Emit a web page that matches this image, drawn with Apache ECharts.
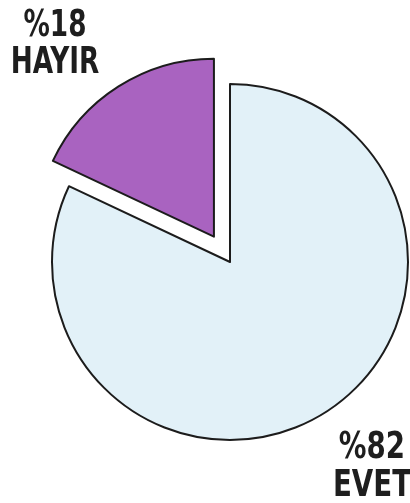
<!DOCTYPE html>
<html>
<head>
<meta charset="utf-8">
<script src="https://cdn.jsdelivr.net/npm/echarts@6/dist/echarts.min.js"></script>
<style>
  html, body { margin: 0; padding: 0; background: #fff; }
  #chart { width: 410px; height: 503px; }
</style>
</head>
<body>
<div id="chart"></div>
<script>
// Referendum answers, share in percent
const categories = ['EVET', 'HAYIR'];
const shares = [82, 18];
const colors = ['#e2f1f8', '#a963c0'];

const labelFont = '"Liberation Sans Narrow", "DejaVu Sans Condensed", "Roboto", sans-serif';

const chart = echarts.init(document.getElementById('chart'), null, { renderer: 'canvas' });

function labelText(i) {
  return '%' + shares[i] + '\n' + categories[i];
}

chart.setOption({
  backgroundColor: '#ffffff',
  animation: false,
  series: [{
    type: 'pie',
    center: [230, 262],
    radius: 178,
    startAngle: 90,
    clockwise: true,
    selectedMode: 'single',
    selectedOffset: 30,
    label: { show: false },
    labelLine: { show: false },
    emphasis: { disabled: true },
    itemStyle: { borderColor: '#1c1c1c', borderWidth: 2 },
    data: categories.map((name, i) => ({
      name: name,
      value: shares[i],
      selected: name === 'HAYIR',
      itemStyle: { color: colors[i] }
    }))
  }],
  graphic: [
    {
      type: 'text',
      x: 55, y: 8,
      scaleX: 0.77,
      style: {
        text: labelText(1),
        font: 'bold 38px ' + labelFont,
        fill: '#1e1e1e',
        align: 'center',
        lineHeight: 37
      }
    },
    {
      type: 'text',
      x: 372, y: 429,
      scaleX: 0.81,
      style: {
        text: labelText(0),
        font: 'bold 38px ' + labelFont,
        fill: '#1e1e1e',
        align: 'center',
        lineHeight: 38
      }
    }
  ]
});
</script>
</body>
</html>
